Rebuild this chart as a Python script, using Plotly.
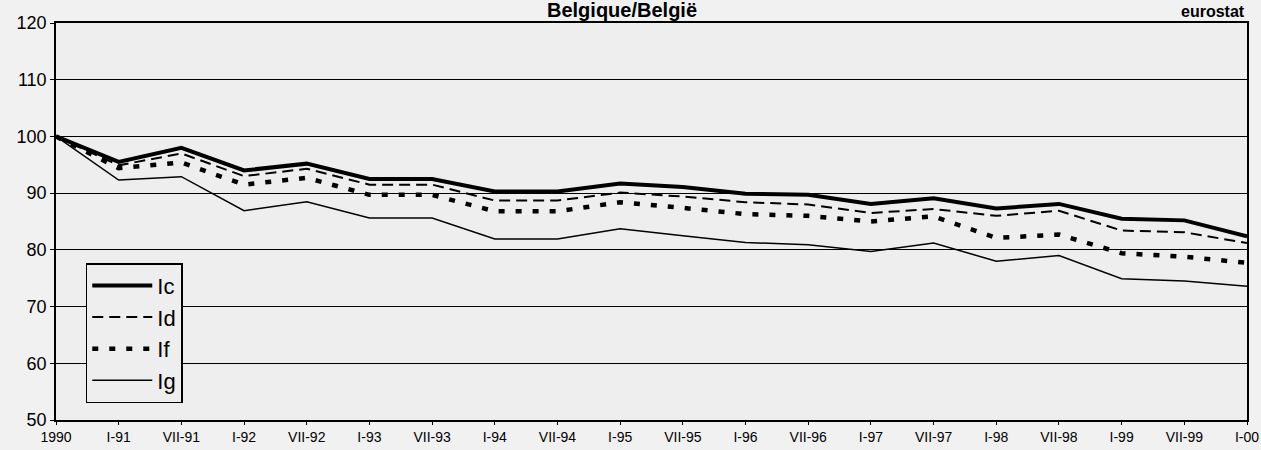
import plotly.graph_objects as go

categories = ["1990", "I-91", "VII-91", "I-92", "VII-92", "I-93", "VII-93", "I-94", "VII-94",
              "I-95", "VII-95", "I-96", "VII-96", "I-97", "VII-97", "I-98", "VII-98", "I-99",
              "VII-99", "I-00"]

Ic = [100, 95.5, 98.0, 94.0, 95.2, 92.5, 92.5, 90.3, 90.3, 91.7, 91.1, 89.9, 89.7, 88.1, 89.1, 87.3, 88.1, 85.5, 85.2, 82.4]
Id = [100, 94.9, 97.0, 93.0, 94.3, 91.5, 91.5, 88.7, 88.7, 90.1, 89.4, 88.4, 88.0, 86.5, 87.2, 86.0, 86.9, 83.4, 83.1, 81.2]
If = [100, 94.4, 95.4, 91.5, 92.7, 89.7, 89.7, 86.8, 86.8, 88.4, 87.4, 86.3, 86.0, 85.0, 85.9, 82.1, 82.7, 79.4, 78.8, 77.7]
Ig = [100, 92.3, 92.9, 86.9, 88.5, 85.6, 85.6, 81.9, 81.9, 83.7, 82.5, 81.3, 80.9, 79.7, 81.2, 78.0, 79.0, 74.9, 74.5, 73.6]

y_ticks = [50, 60, 70, 80, 90, 100, 110, 120]

FONT = "Liberation Sans, Arial, sans-serif"

fig = go.Figure()
fig.add_trace(go.Scatter(x=categories, y=Ic, name="Ic", mode="lines",
                         line=dict(color="black", width=4)))
fig.add_trace(go.Scatter(x=categories, y=Id, name="Id", mode="lines",
                         line=dict(color="black", width=2, dash="11px,6px")))
fig.add_trace(go.Scatter(x=categories, y=If, name="If", mode="lines",
                         line=dict(color="black", width=4.5, dash="6px,11px")))
fig.add_trace(go.Scatter(x=categories, y=Ig, name="Ig", mode="lines",
                         line=dict(color="black", width=1.5)))

fig.update_layout(
    width=1261, height=450,
    margin=dict(l=56, r=14, t=23, b=30),
    paper_bgcolor="#f1f1f1",
    plot_bgcolor="#eeeeee",
    font=dict(family=FONT, color="black"),
    showlegend=True,
    legend=dict(x=0.025, y=0.395, xanchor="left", yanchor="top",
                bgcolor="#eeeeee", bordercolor="black", borderwidth=1.5,
                font=dict(size=22, family=FONT), itemwidth=60, tracegroupgap=2),
    xaxis=dict(type="category", range=[0, 19], showgrid=False, showline=True,
               linecolor="black", linewidth=1.5, mirror=True, ticks="outside",
               ticklen=3, tickcolor="black", tickfont=dict(size=14, family=FONT),
               tickangle=0, automargin=False),
    yaxis=dict(range=[50, 120], tickvals=y_ticks, showgrid=True, gridcolor="black",
               gridwidth=1, zeroline=False, showline=True, linecolor="black",
               linewidth=1.5, mirror=True, ticks="outside", ticklen=4, tickcolor="black",
               tickfont=dict(size=18, family=FONT), automargin=False),
    annotations=[
        dict(text="<b>Belgique/België</b>", xref="paper", yref="paper", x=0.475, y=1,
             xanchor="center", yanchor="bottom", yshift=0, showarrow=False,
             font=dict(size=20, family=FONT, color="black")),
        dict(text="<b>eurostat</b>", xref="paper", yref="paper", x=1.0, y=1,
             xanchor="right", yanchor="bottom", yshift=1, showarrow=False,
             font=dict(size=16, family=FONT, color="black")),
    ],
)

fig.write_html("out.html", config={"displayModeBar": False},
               post_script="document.body.style.margin='0';document.body.style.overflow='hidden';")
